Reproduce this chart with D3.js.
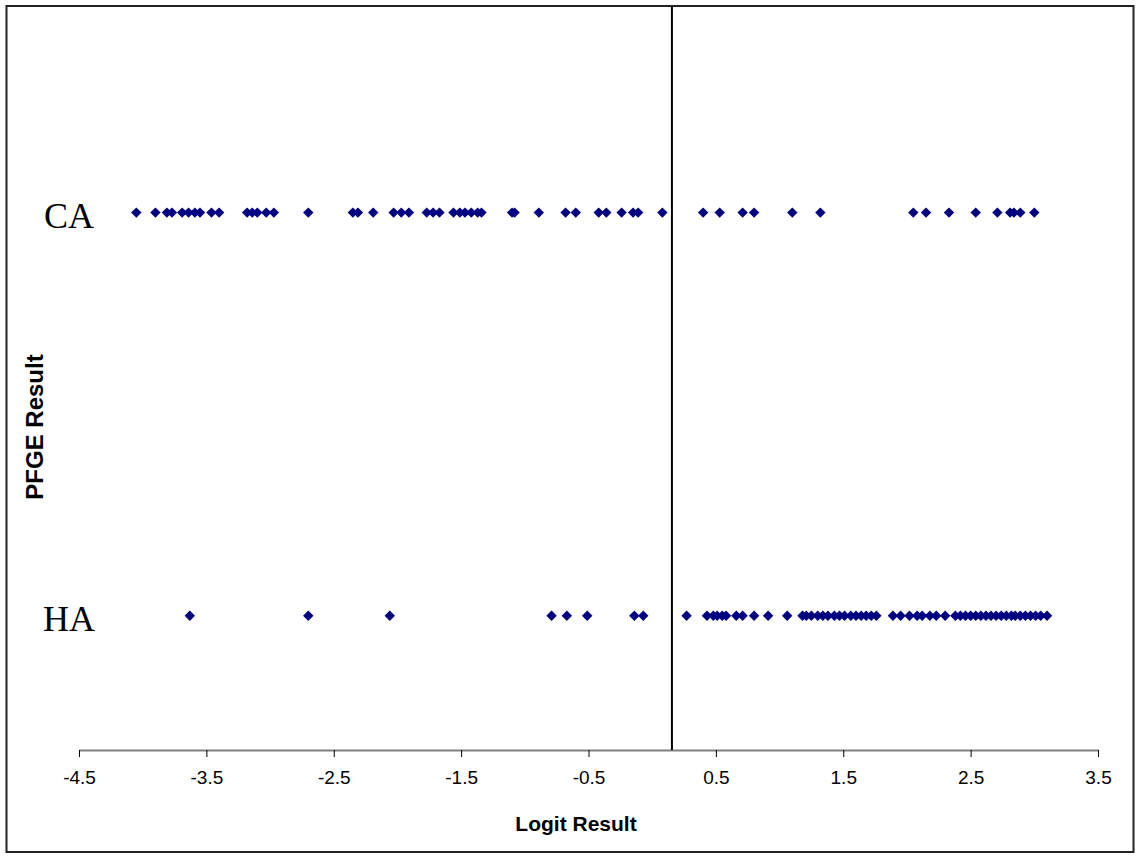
<!DOCTYPE html>
<html>
<head>
<meta charset="utf-8">
<script src="https://cdn.jsdelivr.net/npm/d3@7"></script>
<style>
  body { margin: 0; background: #fff; }
  #chart { width: 1141px; height: 859px; }
  .tick text { font-family: Arial, "Liberation Sans", sans-serif; font-size: 19px; fill: #000; }
  .axisLabel { font-family: Arial, "Liberation Sans", sans-serif; font-size: 21px; font-weight: bold; fill: #000; }
  .catLabel { font-family: "Times New Roman", "Liberation Serif", serif; font-size: 36px; fill: #000; }
</style>
</head>
<body>
<div id="chart"></div>
<script>

// DATA

const categories = ["HA", "CA"];

const caValues = [-4.05, -3.90, -3.81, -3.77, -3.69, -3.64, -3.59, -3.55, -3.46, -3.40,
    -3.18, -3.14, -3.10, -3.03, -2.97, -2.70, -2.35, -2.31, -2.19, -2.03, -1.97, -1.91,
    -1.77, -1.72, -1.67, -1.56, -1.51, -1.47, -1.42, -1.37, -1.34, -1.10, -1.08, -0.89,
    -0.68, -0.60, -0.42, -0.36, -0.24, -0.15, -0.11, 0.08, 0.40, 0.53, 0.71, 0.80,
    1.10, 1.32, 2.05, 2.15, 2.33, 2.54, 2.71, 2.81, 2.84, 2.89, 3.00];

const haValues = [-3.63, -2.70, -2.06, -0.79, -0.67, -0.51, -0.14, -0.07, 0.27,
    0.43, 0.48, 0.51, 0.55, 0.58, 0.66, 0.71, 0.80, 0.91, 1.06,
    1.18, 1.21, 1.25, 1.30, 1.34, 1.38, 1.43, 1.47, 1.51, 1.56, 1.60, 1.64, 1.68, 1.72, 1.76,
    1.89, 1.95, 2.02, 2.08, 2.12, 2.18, 2.23, 2.30,
    2.38, 2.42, 2.46, 2.50, 2.54, 2.58, 2.62, 2.66, 2.70, 2.74, 2.78, 2.82, 2.85,
    2.89, 2.93, 2.97, 3.01, 3.05, 3.10];

const xTicks = [-4.5, -3.5, -2.5, -1.5, -0.5, 0.5, 1.5, 2.5, 3.5];

const cutoff = 0.155;

// MAKE SVG CANVAS

const width = 1141;
const height = 859;
const margin = {top: 6, left: 79, right: 43, bottom: 109};

const svg = d3.select("#chart")
    .append("svg")
    .attr("width", width)
    .attr("height", height);

// CHART BORDER
svg.append("rect")
    .attr("x", 6.5)
    .attr("y", 6)
    .attr("width", 1127)
    .attr("height", 846)
    .attr("fill", "none")
    .attr("stroke", "#222")
    .attr("stroke-width", 2);

// SCALES

const xScale = d3.scaleLinear()
    .domain([-4.5, 3.5])
    .range([margin.left, width - margin.right]);

const yScale = d3.scaleLinear()
    .domain([0.667, 2.5])
    .range([height - margin.bottom, 11]);

// AXIS

const xAxis = svg.append("g")
    .attr("class", "axis")
    .attr("transform", `translate(0, ${height - margin.bottom})`)
    .call(d3.axisBottom(xScale)
        .tickValues(xTicks)
        .tickSize(7)
        .tickSizeOuter(0)
        .tickPadding(14)
        .tickFormat(function(d) { return d.toFixed(1); }));

xAxis.select(".domain").attr("stroke", "#808080").attr("stroke-width", 2);
xAxis.selectAll(".tick line").attr("stroke", "#000");
xAxis.selectAll(".tick text").attr("dy", "0.71em");

const xAxisLabel = svg.append("text")
    .attr("class", "axisLabel")
    .attr("x", 576)
    .attr("y", 831)
    .attr("text-anchor", "middle")
    .text("Logit Result");

const yAxisLabel = svg.append("text")
    .attr("class", "axisLabel")
    .attr("transform", "rotate(-90)")
    .attr("x", -427)
    .attr("y", 43)
    .attr("text-anchor", "middle")
    .style("font-size", "24px")
    .text("PFGE Result");

// CATEGORY LABELS

svg.selectAll(".catLabel")
    .data(categories)
    .enter()
    .append("text")
        .attr("class", "catLabel")
        .attr("x", 69)
        .attr("y", function(d, i) { return yScale(i + 1) + 15; })
        .attr("text-anchor", "middle")
        .text(function(d) { return d; });

// CUTOFF LINE

svg.append("line")
    .attr("x1", xScale(cutoff))
    .attr("x2", xScale(cutoff))
    .attr("y1", margin.top)
    .attr("y2", height - margin.bottom)
    .attr("stroke", "#000")
    .attr("stroke-width", 2);

// DATA

const points = haValues.map(function(v) { return {cat: 1, value: v}; })
    .concat(caValues.map(function(v) { return {cat: 2, value: v}; }));

const diamond = d3.symbol().type(d3.symbolSquare).size(54);

svg.selectAll(".point")
    .data(points)
    .enter()
    .append("path")
        .attr("class", "point")
        .attr("d", diamond)
        .attr("transform", function(d) {
            return `translate(${xScale(d.value)}, ${yScale(d.cat)}) rotate(45)`;
        })
        .attr("fill", "#000080");

</script>
</body>
</html>
